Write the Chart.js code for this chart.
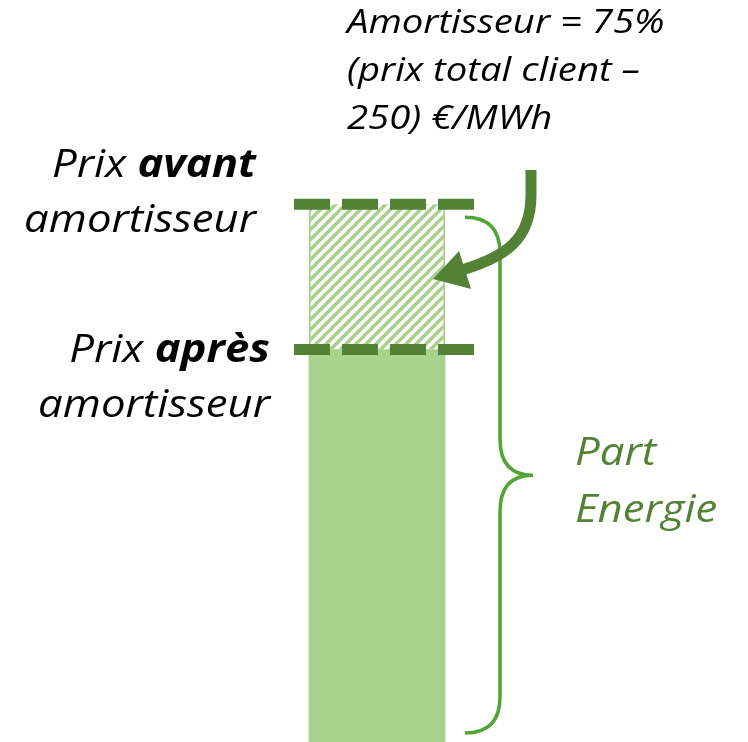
<!DOCTYPE html>
<html>
<head>
<meta charset="utf-8">
<script src="https://cdn.jsdelivr.net/npm/chart.js@4"></script>
<style>
    html, body { margin: 0; padding: 0; background: #fff; }
    #wrap { width: 748px; height: 742px; }
</style>
</head>
<body>
<div id="wrap"><canvas id="chart" width="748" height="742"></canvas></div>
<script>
// Values (schematic units, 100 = prix avant amortisseur)
var categories = ['Part Energie'];
var prixApres = [73];      // prix après amortisseur
var amortisseur = [27];    // part retirée par l'amortisseur
var yMax = 138;

var labelsAvant = ['Prix ', 'avant', 'amortisseur'];
var labelsApres = ['Prix ', 'après', 'amortisseur'];
var noteLines = ['Amortisseur = 75%', '(prix total client \u2013', '250) \u20ac/MWh'];
var partLines = ['Part', 'Energie'];

var darkGreen = '#548235';
var lightGreen = '#a9d18e';
var braceGreen = '#52a534';
var fontFamily = '"Open Sans", Lato, sans-serif';
var stretch = 1.12; // the original lettering is wider than Open Sans

function hatchPattern() {
    var s = 10;
    var c = document.createElement('canvas');
    c.width = s; c.height = s;
    var g = c.getContext('2d');
    g.fillStyle = '#fff';
    g.fillRect(0, 0, s, s);
    g.strokeStyle = lightGreen;
    g.lineWidth = 3.5;
    g.beginPath();
    g.moveTo(-2, s + 2); g.lineTo(s + 2, -2);
    g.moveTo(-2, 2); g.lineTo(2, -2);
    g.moveTo(s - 2, s + 2); g.lineTo(s + 2, s - 2);
    g.stroke();
    return g.createPattern(c, 'repeat');
}

// text drawn with a horizontal stretch; x is the left edge
function wideText(ctx, t, x, y, sx) {
    ctx.save();
    ctx.translate(x, y);
    ctx.scale(sx, 1);
    ctx.textAlign = 'left';
    ctx.fillText(t, 0, 0);
    ctx.restore();
}

// draws dashed price lines, brace, arrow and the texts
var annotations = {
    id: 'annotations',
    afterDatasetsDraw: function(chart) {
        var ctx = chart.ctx;
        var y = chart.scales.y;
        var bar = chart.getDatasetMeta(0).data[0];
        var left = bar.x - bar.width / 2;
        var right = bar.x + bar.width / 2;
        var yTop = y.getPixelForValue(prixApres[0] + amortisseur[0]);
        var yMid = y.getPixelForValue(prixApres[0]);
        var yBot = y.getPixelForValue(0);

        ctx.save();

        // dashed price lines
        ctx.strokeStyle = darkGreen;
        ctx.lineWidth = 11;
        ctx.setLineDash([36, 12]);
        [yTop, yMid].forEach(function(py) {
            ctx.beginPath();
            ctx.moveTo(left - 15, py);
            ctx.lineTo(right + 29, py);
            ctx.stroke();
        });
        ctx.setLineDash([]);

        // brace
        var bx = right + 55, tx = right + 20, mx = right + 88;
        var b0 = yTop + 13, b1 = yBot - 9, bm = (b0 + b1) / 2;
        ctx.strokeStyle = braceGreen;
        ctx.lineWidth = 3.5;
        ctx.beginPath();
        ctx.moveTo(tx, b0);
        ctx.quadraticCurveTo(bx, b0, bx, b0 + 36);
        ctx.lineTo(bx, bm - 36);
        ctx.quadraticCurveTo(bx, bm, mx, bm);
        ctx.quadraticCurveTo(bx, bm, bx, bm + 36);
        ctx.lineTo(bx, b1 - 36);
        ctx.quadraticCurveTo(bx, b1, tx, b1);
        ctx.stroke();

        // curved arrow
        ctx.strokeStyle = darkGreen;
        ctx.fillStyle = darkGreen;
        ctx.lineWidth = 11;
        ctx.beginPath();
        ctx.moveTo(531, 170);
        ctx.lineTo(531, 195);
        ctx.bezierCurveTo(531, 240, 505, 257, 462, 270);
        ctx.stroke();
        ctx.beginPath();
        ctx.moveTo(433, 279);
        ctx.lineTo(459, 251);
        ctx.lineTo(471, 289);
        ctx.closePath();
        ctx.fill();

        // left labels, right aligned
        ctx.fillStyle = '#000';
        ctx.textBaseline = 'alphabetic';
        var big = 39;
        var reg = 'italic ' + big + 'px ' + fontFamily;
        var bold = 'italic bold ' + big + 'px ' + fontFamily;
        function leftLabel(parts, xr, py) {
            ctx.font = bold;
            var wb = ctx.measureText(parts[1]).width * stretch;
            ctx.font = reg;
            var wa = ctx.measureText(parts[0]).width * stretch;
            wideText(ctx, parts[0], xr - wb - wa, py, stretch);
            ctx.font = bold;
            wideText(ctx, parts[1], xr - wb, py, stretch);
            ctx.font = reg;
            var w2 = ctx.measureText(parts[2]).width * stretch;
            wideText(ctx, parts[2], xr - w2, py + 55, stretch);
        }
        leftLabel(labelsAvant, 256, 177);
        leftLabel(labelsApres, 270, 362);

        // note top right
        ctx.font = 'italic 33px ' + fontFamily;
        noteLines.forEach(function(t, i) {
            wideText(ctx, t, 347, 33 + i * 48, 1.16);
        });

        // Part Energie
        ctx.fillStyle = darkGreen;
        ctx.font = reg;
        partLines.forEach(function(t, i) {
            wideText(ctx, t, 575, 465 + i * 57, stretch);
        });

        ctx.restore();
    }
};

new Chart(document.getElementById('chart'), {
    type: 'bar',
    data: {
        labels: categories,
        datasets: [{
            label: 'Prix après amortisseur',
            data: prixApres,
            backgroundColor: lightGreen,
            borderWidth: 0,
            barThickness: 136,
        }, {
            label: 'Amortisseur',
            data: amortisseur,
            backgroundColor: hatchPattern(),
            borderColor: lightGreen,
            borderWidth: { left: 2, right: 2, top: 0, bottom: 0 },
            borderSkipped: false,
            barThickness: 136,
        }]
    },
    options: {
        responsive: false,
        animation: false,
        layout: { padding: { left: 6, right: 0, top: 0, bottom: 0 } },
        plugins: {
            legend: { display: false },
            tooltip: { enabled: false },
        },
        scales: {
            x: { stacked: true, display: false },
            y: { stacked: true, display: false, min: 0, max: yMax },
        }
    },
    plugins: [annotations]
});
</script>
</body>
</html>
